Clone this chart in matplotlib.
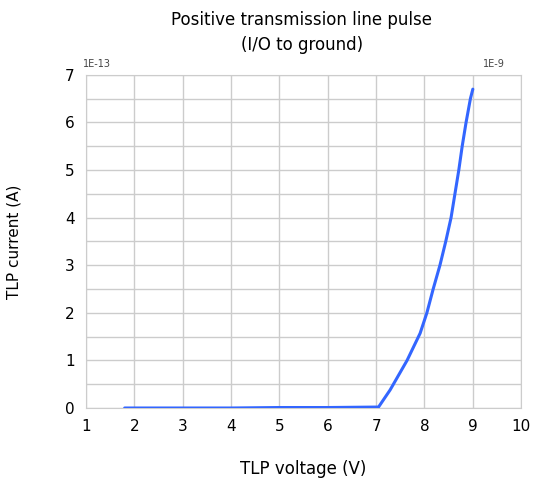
import numpy as np
import matplotlib.pyplot as plt

plt.rcParams["font.family"] = ["DejaVu Sans"]

# TLP curve
voltage = [1.8, 3.0, 4.0, 5.0, 6.0, 7.05, 7.29, 7.64, 7.91, 8.05, 8.18, 8.32, 8.44,
           8.55, 8.63, 8.71, 8.78, 8.86, 8.95, 9.0]
current = [0.0, 0.0, 0.0, 0.01, 0.01, 0.02, 0.38, 1.0, 1.57, 2.0, 2.5, 3.0, 3.5,
           4.0, 4.5, 5.0, 5.5, 6.0, 6.5, 6.7]

x_ticks = np.arange(1, 11)
y_ticks = np.arange(0, 8)

fig = plt.figure(figsize=(5.34, 4.8), dpi=100)
ax = fig.add_axes([0.161, 0.15, 0.815, 0.694])

ax.plot(voltage, current, color="#3366ff", lw=2.2, solid_capstyle="round", zorder=3)

ax.set_xlim(1, 10)
ax.set_ylim(0, 7)
ax.set_xticks(x_ticks)
ax.set_yticks(y_ticks)
ax.set_yticks(np.arange(0.5, 7, 1), minor=True)
ax.grid(True, which="major", color="#cccccc", lw=1)
ax.grid(True, which="minor", axis="y", color="#cccccc", lw=1)
ax.tick_params(which="both", length=0, labelsize=11)
ax.tick_params(axis="x", pad=8)
ax.tick_params(axis="y", pad=8)
for s in ax.spines.values():
    s.set_color("#cccccc")

fig.text(0.565, 1 - 20 / 480, "Positive transmission line pulse", fontsize=12,
         ha="center", va="center")
fig.text(0.565, 1 - 45 / 480, "(I/O to ground)", fontsize=12, ha="center", va="center")
ax.set_xlabel("TLP voltage (V)", fontsize=12)
ax.set_ylabel("TLP current (A)", fontsize=11)
ax.xaxis.set_label_coords(0.5, -0.155)
ax.yaxis.set_label_coords(-0.147, 0.5)
fig.text(83 / 534, 1 - 64 / 480, "1E-13", fontsize=7, color="#444444",
         ha="left", va="center")
fig.text(505 / 534, 1 - 64 / 480, "1E-9", fontsize=7, color="#444444",
         ha="right", va="center")

fig.savefig("out.png", dpi=100)
